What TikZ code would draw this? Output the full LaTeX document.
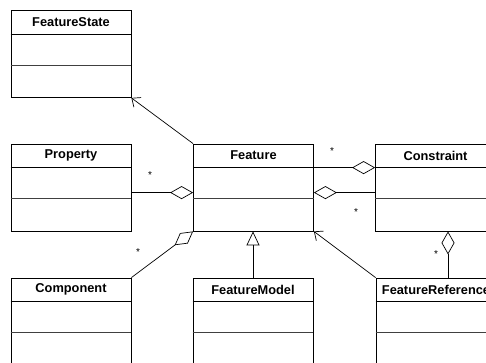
\documentclass[tikz,border=0pt]{standalone}
\usepackage{fontspec}
\setmainfont{Liberation Sans}
\usetikzlibrary{arrows.meta,calc}
\tikzset{
  cls/.style={draw, line width=0.8pt, minimum width=120pt, minimum height=87pt, inner sep=0pt, fill=white},
  ttl/.style={font=\fontsize{12.8}{14}\selectfont\bfseries, inner sep=0pt},
  star/.style={font=\fontsize{10}{11}\selectfont, inner sep=0pt},
  sep/.style={line width=0.8pt},
  midsep/.style={line width=1.1pt, black!75},
  conn/.style={line width=0.7pt},
  agg/.style={conn, -{Diamond[open, length=23pt, width=13pt, line width=0.7pt]}},
  navig/.style={conn, -{Straight Barb[length=7pt, width=12pt, line width=0.7pt]}},
  gen/.style={conn, -{Triangle[open, length=14pt, width=13pt, line width=0.7pt]}}
}
\newcommand{\umlclass}[3]{%
  \node[cls] (#1) at (#2) {};
  \node[ttl] (#1-t) at ([yshift=-12pt]#1.north) {#3};
  \draw[sep] ([yshift=-24pt]#1.north west) -- ([yshift=-24pt]#1.north east);
  \draw[midsep] ([yshift=-55pt]#1.north west) -- ([yshift=-55pt]#1.north east);
}
\begin{document}
\begin{tikzpicture}[x=1pt, y=-1pt]
\useasboundingbox (0,0) rectangle (486,362);
\fill[white] (0,0) rectangle (486,362);
\clip (0,0) rectangle (486,362);
\umlclass{fs}{71,54}{FeatureState}
\umlclass{prop}{71,187.5}{Property}
\umlclass{feat}{253.5,187.5}{Feature}
\umlclass{cons}{435.5,187.5}{Constraint}
\umlclass{comp}{71,321.5}{Component}
\umlclass{fm}{253,321.5}{FeatureModel}
\umlclass{fr}{436,321.5}{FeatureReference}
% connectors
\draw[navig] (feat.north west) -- (fs.south east);
\draw[agg] ([yshift=-49pt]prop.north east) -- ([yshift=-49pt]feat.north west);
\draw[agg] ([yshift=-24pt]feat.north east) -- ([yshift=-24pt]cons.north west);
\draw[agg] ([yshift=-49pt]cons.north west) -- ([yshift=-49pt]feat.north east);
\draw[agg] (comp.north east) -- (feat.south west);
\draw[gen] (fm.north) -- (fm.north |- feat.south);
\draw[navig] (fr.north west) -- (feat.south east);
\draw[agg] ([xshift=12pt]fr.north) -- ([xshift=12pt]fr.north |- cons.south);
% multiplicities
\node[star] (s1) at (150,175) {*};
\node[star] (s2) at (332,151) {*};
\node[star] (s3) at (356,212) {*};
\node[star] (s4) at (138,252) {*};
\node[star] (s5) at (436,254) {*};
\end{tikzpicture}
\end{document}
